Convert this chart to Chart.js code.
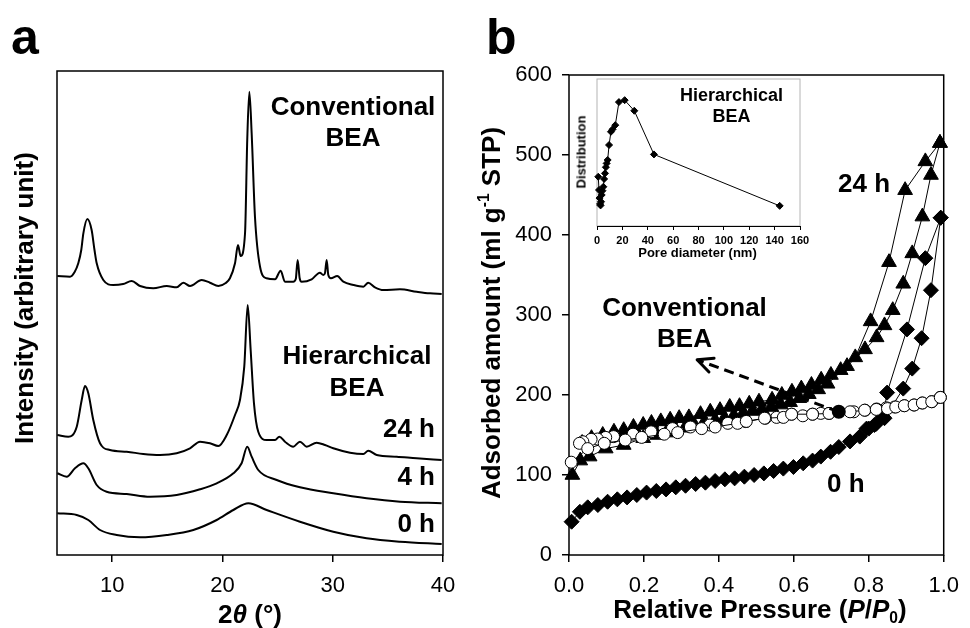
<!DOCTYPE html>
<html>
<head>
<meta charset="utf-8">
<script src="https://cdn.jsdelivr.net/npm/chart.js@4.4.1/dist/chart.umd.min.js"></script>
<style>
  body { margin: 0; background: #fff; }
  #lienzo { position: relative; width: 970px; height: 628px; overflow: hidden; background: #fff;
            font-family: "Liberation Sans", Arial, sans-serif; color: #000; }
  canvas { position: absolute; }
  .t { position: absolute; font-weight: bold; white-space: nowrap; line-height: 1; }
  .c { transform: translateX(-50%); text-align: center; }
  .v { transform: translate(-50%, -50%) rotate(-90deg); }
  sup { font-size: 0.6em; line-height: 0; vertical-align: 0.7em; }
  sub { font-size: 0.6em; line-height: 0; vertical-align: -0.3em; }
</style>
</head>
<body>
<div id="lienzo">
  <canvas id="graficoA" width="470" height="628" style="left:0;top:0"></canvas>
  <canvas id="graficoB" width="500" height="628" style="left:470px;top:0"></canvas>
  <canvas id="graficoIns" width="250" height="200" style="left:565px;top:72px"></canvas>

  <div class="t" style="left:11px;top:12px;font-size:50px">a</div>
  <div class="t" style="left:486px;top:12px;font-size:50px">b</div>

  <div class="t v" style="left:23.7px;top:298px;font-size:26px">Intensity (arbitrary unit)</div>
  <div class="t c" style="left:250px;top:601px;font-size:26px">2<i>θ</i> (°)</div>
  <div class="t v" style="left:491px;top:312.5px;font-size:26px">Adsorbed amount (ml g<sup>-1</sup> STP)</div>
  <div class="t c" style="left:760px;top:596px;font-size:26px">Relative Pressure (<i>P</i>/<i>P</i><sub>0</sub>)</div>

  <div class="t c" style="left:353px;top:90.5px;font-size:26px;line-height:31px">Conventional<br>BEA</div>
  <div class="t c" style="left:357px;top:340px;font-size:26px;line-height:31.5px">Hierarchical<br>BEA</div>
  <div class="t" style="right:535px;top:415px;font-size:26px">24 h</div>
  <div class="t" style="right:535px;top:463px;font-size:26px">4 h</div>
  <div class="t" style="right:535px;top:510px;font-size:26px">0 h</div>

  <div class="t c" style="left:684.5px;top:292px;font-size:26px;line-height:31.3px">Conventional<br>BEA</div>
  <div class="t" style="left:838px;top:170px;font-size:26px">24 h</div>
  <div class="t" style="left:827px;top:470px;font-size:26px">0 h</div>

  <div class="t c" style="left:731.5px;top:84.8px;font-size:18px;line-height:21.3px">Hierarchical<br>BEA</div>
  <div class="t v" style="left:580.5px;top:151.5px;font-size:13px">Distribution</div>
  <div class="t c" style="left:697.5px;top:245.7px;font-size:13px">Pore diameter (nm)</div>
</div>

<script>
// Panel a: difractogramas (2θ en grados, intensidad en unidades arbitrarias)
const xrdConvX = [5.03, 6.18, 6.6, 6.93, 7.2, 7.39, 7.75, 8.14, 8.4, 8.6, 9.2, 10.1, 11.0, 11.77, 12.53, 13.73, 14.95, 15.85, 16.45, 17.06,
  18.12, 18.87, 19.63, 20.3, 20.68, 21.14, 21.41, 21.65, 22.05, 22.25, 22.44, 22.65, 22.95, 23.41, 24.0, 24.77, 25.28, 25.67, 26.42, 26.65,
  26.82, 27.0, 27.18, 28.09, 28.84, 29.15, 29.3, 29.45, 29.6, 29.84, 30.41, 30.96, 31.87, 32.78, 33.22, 33.83, 34.59, 36.1, 37.61, 38.82, 39.88];
const xrdConvY = [279, 278.3, 283, 291.7, 305, 321.7, 336, 325, 305, 291.7, 275, 270, 271, 274, 269, 266.7, 269, 267.7, 272.3, 269,
  275, 272.3, 269, 272, 276.7, 291.7, 310, 299, 321.7, 415, 463.3, 421.7, 338.3, 288.3, 276.7, 275.7, 284.3, 273.3, 273.3, 276,
  295, 277, 273.3, 275.7, 282.3, 280, 282, 295, 280, 276.7, 279, 273.3, 270, 268.3, 272.3, 267.7, 265, 265.7, 263.3, 261.7, 261];

const xrd24X = [5.03, 6.02, 6.79, 7.24, 7.54, 7.84, 8.29, 8.9, 9.8, 11.32, 12.82, 14.34, 15.85, 17.06, 17.97, 18.87, 19.63, 20.39, 21.14, 21.59,
  21.98, 22.29, 22.56, 22.86, 23.25, 24.01, 24.77, 25.16, 25.67, 26.42, 27.03, 27.64, 28.54, 29.3, 30.05, 31.57, 32.78, 33.22, 33.99, 35.8, 37.61, 39.88];
const xrd24Y = [120, 118.3, 128.3, 155, 169, 161.7, 135, 111.7, 105, 103.3, 101, 100, 101.7, 106.7, 113.3, 111.7, 109, 120, 140, 155,
  188.3, 250, 205, 151.7, 123.3, 115, 115, 118.3, 113.3, 108.3, 113.3, 108.3, 112.3, 110, 106.7, 102.3, 101, 104.3, 100, 98.3, 96.7, 95];

const xrd4X = [5.03, 5.88, 6.63, 7.39, 7.84, 8.6, 9.5, 11.32, 13.43, 15.85, 17.97, 19.48, 20.99, 21.74, 22.25, 22.65, 23.25, 24.92, 27.03, 30.05, 33.07, 36.1, 39.88];
const xrd4Y = [81.7, 78.3, 86.7, 91.7, 86.7, 70, 63.3, 61, 58.3, 60, 65.7, 71.7, 81.7, 91.7, 108.3, 98.3, 85, 75, 67.7, 61.7, 56.7, 53.3, 51.7];

const xrd0X = [5.03, 6.79, 7.84, 8.9, 10.41, 12.53, 14.95, 17.36, 19.48, 20.99, 22.35, 24.01, 27.03, 30.05, 33.07, 36.1, 39.88];
const xrd0Y = [41.7, 40, 35, 25, 20, 17.7, 20, 25, 35, 45, 51.7, 45, 33.3, 23.3, 16.7, 13.3, 11];

const ticksXA = [10, 20, 30, 40];

// Panel b: isotermas de N2 (adsorción y desorción)
const isoConvAdsX = [0.006, 0.05, 0.094, 0.15, 0.194, 0.254, 0.29, 0.354, 0.39, 0.45, 0.473, 0.522, 0.572, 0.594, 0.65, 0.694, 0.75, 0.789, 0.82, 0.85, 0.872, 0.895, 0.921, 0.943, 0.968, 0.991];
const isoConvAdsY = [116, 133, 139.6, 143.7, 147, 151, 153, 158, 160, 164.6, 167, 171, 172, 176, 176, 177, 179, 181, 182, 183, 185, 186.6, 187.5, 190, 191.6, 197];
const isoConvDesX = [0.991, 0.968, 0.943, 0.921, 0.895, 0.869, 0.847, 0.821, 0.79, 0.76, 0.694, 0.672, 0.65, 0.624, 0.594, 0.554, 0.524, 0.472, 0.424, 0.376, 0.324, 0.276, 0.219, 0.171, 0.119, 0.098, 0.076, 0.059, 0.037, 0.028];
const isoConvDesY = [197, 191.6, 190, 187.5, 186.6, 185, 184, 182.5, 181, 179, 177, 177, 176, 174, 176, 172, 171, 166.7, 164.6, 162.5, 160, 158, 154, 151, 148, 147, 145, 144.6, 141.6, 139.6];

const iso24AdsX = [0.009, 0.03, 0.055, 0.098, 0.146, 0.198, 0.235, 0.26, 0.285, 0.31, 0.335, 0.36, 0.39, 0.415, 0.44, 0.465, 0.49, 0.515, 0.54, 0.565, 0.59, 0.615, 0.64, 0.665, 0.69, 0.742, 0.79, 0.821, 0.842, 0.864, 0.892, 0.916, 0.943, 0.966, 0.99];
const iso24AdsY = [100, 118, 123, 133, 137.5, 146, 150, 153, 156, 159, 162, 165, 168, 171, 174, 177, 180, 182, 185, 188, 191, 196, 201, 207, 214, 236, 257, 272, 287, 306, 339, 377, 423, 475, 515];
const iso24DesX = [0.99, 0.951, 0.897, 0.854, 0.805, 0.764, 0.725, 0.699, 0.673, 0.647, 0.62, 0.595, 0.568, 0.542, 0.507, 0.481, 0.455, 0.429, 0.403, 0.377, 0.351, 0.32, 0.294, 0.27, 0.245, 0.22, 0.198, 0.172, 0.146, 0.12, 0.09, 0.06, 0.035];
const iso24DesY = [515, 492, 456, 366, 292, 247, 231, 225, 219, 212.5, 208, 204, 200, 194, 191.6, 189, 186, 185, 181, 179, 176, 172, 171, 169, 167, 165, 162.5, 160, 156, 154, 150, 146, 140];

const iso0AdsX = [0.007, 0.029, 0.05, 0.077, 0.103, 0.129, 0.155, 0.181, 0.207, 0.233, 0.259, 0.285, 0.311, 0.338, 0.364, 0.39, 0.416, 0.442, 0.468, 0.494,
  0.52, 0.546, 0.572, 0.599, 0.625, 0.65, 0.672, 0.698, 0.72, 0.75, 0.776, 0.794, 0.815, 0.842, 0.892, 0.916, 0.941, 0.966, 0.992];
const iso0AdsY = [41.6, 54, 59.6, 62.5, 66.6, 69.6, 72, 75, 78, 80, 82, 84.6, 86.6, 88.75, 90.4, 92.5, 94.6, 95.8, 97.9, 100,
  102, 105, 108, 110, 114.6, 118, 123, 129, 135, 142, 148, 158, 162.5, 171, 208, 233, 271, 331, 421.6];
const iso0DesX = [0.992, 0.951, 0.902, 0.849, 0.838, 0.82, 0.8];
const iso0DesY = [421.6, 371, 282, 203, 173, 164, 158];

// flecha discontinua: desde la curva convencional hacia su etiqueta
const flechaX = [0.72, 0.342];
const flechaY = [179, 244];

const ticksXB = [0, 0.2, 0.4, 0.6, 0.8, 1.0];
const ticksYB = [0, 100, 200, 300, 400, 500, 600];

// Recuadro: distribución de poros (unidades arbitrarias)
const poroX = [1.0, 1.6, 2.0, 2.4, 2.8, 3.2, 3.7, 4.3, 5.0, 5.6, 6.3, 7.0, 7.6, 8.4, 9.5, 11.0, 12.3, 14.4, 17.3, 21.8, 29.4, 44.9, 144];
const poroY = [0.335, 0.245, 0.19, 0.15, 0.14, 0.165, 0.211, 0.24, 0.267, 0.32, 0.358, 0.40, 0.426, 0.449, 0.551, 0.641, 0.658, 0.686, 0.843, 0.856, 0.784, 0.487, 0.137];
const ticksXIns = [0, 20, 40, 60, 80, 100, 120, 140, 160];

Chart.defaults.font.family = '"Liberation Sans", Arial, sans-serif';
Chart.defaults.color = '#000';

const puntos = (xs, ys) => xs.map((x, i) => ({ x, y: ys[i] }));

// marco alrededor del área de trazado
const marco = {
  id: 'marco',
  beforeDraw(chart, args, opts) {
    const { ctx, chartArea: a } = chart;
    ctx.save();
    ctx.strokeStyle = opts.color || '#000';
    ctx.lineWidth = opts.width || 1.5;
    ctx.strokeRect(a.left, a.top, a.right - a.left, a.bottom - a.top);
    ctx.restore();
  }
};

// punta abierta de la flecha (dataset 0 del panel b)
const puntaFlecha = {
  id: 'puntaFlecha',
  afterDatasetsDraw(chart) {
    const [p0, p1] = chart.getDatasetMeta(0).data;
    const ang = Math.atan2(p0.y - p1.y, p0.x - p1.x);
    const ctx = chart.ctx;
    ctx.save();
    ctx.strokeStyle = '#000';
    ctx.lineWidth = 3;
    ctx.lineCap = 'round';
    ctx.beginPath();
    [-0.45, 0.45].forEach(d => {
      ctx.moveTo(p1.x, p1.y);
      ctx.lineTo(p1.x + 17 * Math.cos(ang + d), p1.y + 17 * Math.sin(ang + d));
    });
    ctx.stroke();
    ctx.restore();
  }
};

const ejeTicks = (lista) => (ax) => { ax.ticks = lista.map(v => ({ value: v })); };

const serieXRD = (xs, ys) => ({
  data: puntos(xs, ys),
  showLine: true,
  borderColor: '#000',
  borderWidth: 2,
  pointRadius: 0,
  cubicInterpolationMode: 'monotone',
  fill: false
});

new Chart(document.getElementById('graficoA'), {
  type: 'scatter',
  data: {
    datasets: [
      serieXRD(xrdConvX, xrdConvY),
      serieXRD(xrd24X, xrd24Y),
      serieXRD(xrd4X, xrd4Y),
      serieXRD(xrd0X, xrd0Y)
    ]
  },
  options: {
    responsive: false,
    animation: false,
    events: [],
    layout: { padding: { left: 57, right: 27, top: 71, bottom: 33 } },
    plugins: {
      legend: { display: false },
      tooltip: { enabled: false },
      marco: { color: '#000', width: 1.5 }
    },
    scales: {
      x: {
        type: 'linear', min: 5, max: 40,
        afterBuildTicks: ejeTicks(ticksXA),
        afterFit: ax => { ax.height = 40; },
        ticks: { font: { size: 22 }, padding: 11, maxRotation: 0, autoSkip: false },
        grid: { drawOnChartArea: false, tickLength: 7, color: '#000', lineWidth: 1.5 },
        border: { display: false }
      },
      y: { display: false, min: 0, max: 484 }
    }
  },
  plugins: [marco]
});

const isoterma = (xs, ys, forma, radio, relleno) => ({
  data: puntos(xs, ys),
  showLine: true,
  borderColor: '#000',
  borderWidth: 1,
  pointStyle: forma,
  pointRadius: radio,
  pointBackgroundColor: relleno,
  pointBorderColor: '#000',
  pointBorderWidth: 1,
  clip: false
});

new Chart(document.getElementById('graficoB'), {
  type: 'scatter',
  data: {
    datasets: [
      {
        data: puntos(flechaX, flechaY),
        showLine: true,
        borderColor: '#000',
        borderWidth: 3,
        borderDash: [10, 6],
        pointRadius: [5.5, 0],
        pointBackgroundColor: '#000',
        pointBorderColor: '#000',
        clip: false
      },
      isoterma(isoConvAdsX, isoConvAdsY, 'circle', 6, '#fff'),
      isoterma(isoConvDesX, isoConvDesY, 'circle', 6, '#fff'),
      isoterma(iso24AdsX, iso24AdsY, 'triangle', 8.5, '#000'),
      isoterma(iso24DesX, iso24DesY, 'triangle', 8.5, '#000'),
      isoterma(iso0AdsX, iso0AdsY, 'rectRot', 7.5, '#000'),
      isoterma(iso0DesX, iso0DesY, 'rectRot', 7.5, '#000')
    ]
  },
  options: {
    responsive: false,
    animation: false,
    events: [],
    layout: { padding: { left: 0, right: 18, top: 75, bottom: 33 } },
    plugins: {
      legend: { display: false },
      tooltip: { enabled: false },
      marco: { color: '#000', width: 1.5 }
    },
    scales: {
      x: {
        type: 'linear', min: 0, max: 1,
        afterBuildTicks: ejeTicks(ticksXB),
        afterFit: ax => { ax.height = 40; },
        ticks: { font: { size: 22 }, padding: 11, maxRotation: 0, autoSkip: false, callback: v => v.toFixed(1) },
        grid: { drawOnChartArea: false, tickLength: 7, color: '#000', lineWidth: 1.5 },
        border: { display: false }
      },
      y: {
        type: 'linear', min: 0, max: 600,
        afterBuildTicks: ejeTicks(ticksYB),
        afterFit: ax => { ax.width = 99; },
        ticks: { font: { size: 22 }, padding: 10, autoSkip: false },
        grid: { drawOnChartArea: false, tickLength: 7, color: '#000', lineWidth: 1.5 },
        border: { display: false }
      }
    }
  },
  plugins: [marco, puntaFlecha]
});

new Chart(document.getElementById('graficoIns'), {
  type: 'scatter',
  data: {
    datasets: [{
      data: puntos(poroX, poroY),
      showLine: true,
      borderColor: '#000',
      borderWidth: 1,
      pointStyle: 'rectRot',
      pointRadius: 3.5,
      pointBackgroundColor: '#000',
      pointBorderColor: '#000',
      clip: false
    }]
  },
  options: {
    responsive: false,
    animation: false,
    events: [],
    layout: { padding: { left: 32, right: 15, top: 7, bottom: 10 } },
    plugins: {
      legend: { display: false },
      tooltip: { enabled: false },
      marco: { color: '#b4b4b4', width: 1 }
    },
    scales: {
      x: {
        type: 'linear', min: 0, max: 160,
        afterBuildTicks: ejeTicks(ticksXIns),
        afterFit: ax => { ax.height = 36; },
        ticks: { font: { size: 11, weight: 'bold' }, padding: 4, maxRotation: 0, autoSkip: false },
        grid: { drawOnChartArea: false, tickLength: 4, color: '#000', lineWidth: 1 },
        border: { display: true, color: '#000', width: 1 }
      },
      y: { display: false, min: 0, max: 1 }
    }
  },
  plugins: [marco]
});
</script>
</body>
</html>
